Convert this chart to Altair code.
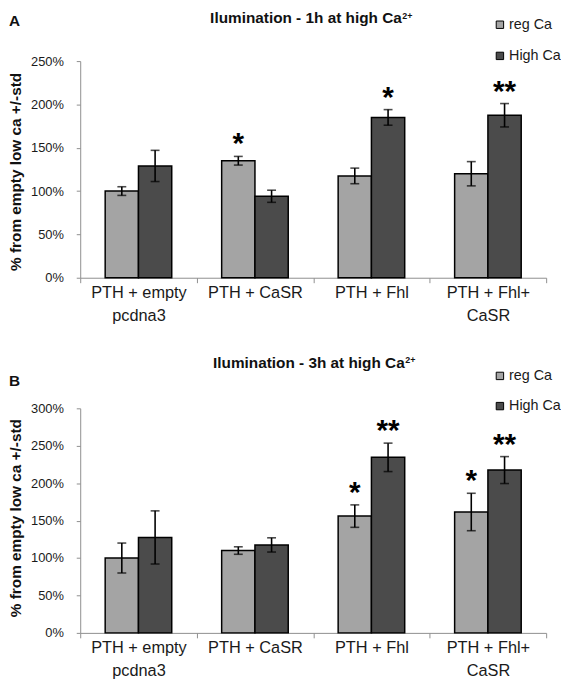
import altair as alt
import pandas as pd

# ---------------- data ----------------
categories = ["PTH + empty|pcdna3", "PTH + CaSR", "PTH + Fhl", "PTH + Fhl+|CaSR"]
series = ["reg Ca", "High Ca"]

# Panel A: 1h at high Ca2+
a_reg = [100, 135, 117.5, 120]
a_reg_err = [5, 5, 9, 14]
a_high = [129, 94, 185, 187.5]
a_high_err = [18, 7, 9, 13.5]
a_reg_star = ["", "*", "", ""]
a_high_star = ["", "", "*", "**"]

# Panel B: 3h at high Ca2+
b_reg = [100, 110, 156, 161.5]
b_reg_err = [20, 5, 15, 25]
b_high = [127.5, 117.5, 234.5, 217.5]
b_high_err = [35.5, 9.5, 19, 18]
b_reg_star = ["", "", "*", "*"]
b_high_star = ["", "", "**", "**"]

a_ticks = [0, 50, 100, 150, 200, 250]
b_ticks = [0, 50, 100, 150, 200, 250, 300]

LIGHT = "#a4a4a4"
DARK = "#4b4b4b"
AXIS_GREY = "#8f8f8f"
FONT = "Liberation Sans"


def make_df(reg, reg_err, high, high_err, reg_star, high_star):
    rows = []
    for i, c in enumerate(categories):
        rows.append(dict(cat=c, series=series[0], value=reg[i], err=reg_err[i], star=reg_star[i]))
        rows.append(dict(cat=c, series=series[1], value=high[i], err=high_err[i], star=high_star[i]))
    df = pd.DataFrame(rows)
    df["lower"] = df["value"] - df["err"]
    df["upper"] = df["value"] + df["err"]
    return df


def panel(df, letter, hours, ticks, width, height, label_pad, title_x, title_y_off,
          title_end, title_base, sup_base, letter_x, letter_y, leg_x, leg_y, leg_row):
    xaxis = alt.Axis(
        title=None, labelAngle=0, labelExpr="split(datum.label, '|')",
        labelFontSize=16.5, labelLineHeight=23, labelPadding=2,
        labelColor="#1a1a1a", labelFont=FONT,
        tickBand="extent", tickSize=5, tickColor=AXIS_GREY,
        domainColor=AXIS_GREY, domainWidth=1,
    )
    xscale = alt.Scale(paddingInner=0, paddingOuter=0)
    xoscale = alt.Scale(paddingInner=0, paddingOuter=0.75)
    yscale = alt.Scale(domain=[0, ticks[-1]], nice=False)
    yaxis = alt.Axis(
        values=ticks, tickCount=len(ticks), labelExpr="datum.value + '%'",
        labelOverlap=False,
        labelFontSize=13, labelColor="#1a1a1a", labelFont=FONT,
        labelPadding=label_pad, tickSize=4, tickColor=AXIS_GREY,
        domainColor=AXIS_GREY, grid=False,
        title="% from empty low ca +/-std", titleFontSize=15.5,
        titleFontWeight="bold", titleFont=FONT, titleColor="#111111",
        titleAngle=270, titleAlign="center", titleBaseline="middle",
        titleX=title_x, titleY=height / 2 + title_y_off,
    )

    def X():
        return alt.X("cat:N", sort=categories, scale=xscale, axis=xaxis)

    def XO():
        return alt.XOffset("series:N", sort=series, scale=xoscale)

    def Y(field):
        return alt.Y(f"{field}:Q", scale=yscale, axis=yaxis)

    base = alt.Chart(df)
    bars = base.mark_bar(stroke="black", strokeWidth=1.5).encode(
        x=X(), xOffset=XO(), y=Y("value"),
        color=alt.Color(
            "series:N", sort=series,
            scale=alt.Scale(domain=series, range=[LIGHT, DARK]),
            legend=alt.Legend(
                title=None, orient="none", legendX=leg_x, legendY=leg_y,
                symbolType="square", symbolSize=56, symbolStrokeColor="black",
                symbolStrokeWidth=1, labelFontSize=14.5, labelFont=FONT,
                labelColor="#1a1a1a", labelOffset=2, rowPadding=leg_row,
            ),
        ),
    )
    rules = base.mark_rule(color="black", strokeWidth=1.6).encode(
        x=X(), xOffset=XO(), y=Y("lower"), y2="upper:Q",
    )
    cap_lo = base.mark_tick(orient="horizontal", size=9, thickness=1.6, color="black").encode(
        x=X(), xOffset=XO(), y=Y("lower"),
    )
    cap_hi = base.mark_tick(orient="horizontal", size=9, thickness=1.6, color="black").encode(
        x=X(), xOffset=XO(), y=Y("upper"),
    )
    stars = base.transform_filter("datum.star != ''").mark_text(
        fontSize=30, fontWeight="bold", font=FONT, baseline="alphabetic",
        align="center", dy=-3, color="black",
    ).encode(
        x=X(), xOffset=XO(), y=Y("upper"), text="star:N",
    )
    title_main = alt.Chart(pd.DataFrame({"t": [f"Ilumination - {hours} at high Ca"]})).mark_text(
        fontSize=15.5, fontWeight="bold", font=FONT, align="right", baseline="alphabetic",
        color="#111111",
    ).encode(text="t:N", x=alt.value(title_end), y=alt.value(title_base))
    title_sup = alt.Chart(pd.DataFrame({"t": ["2+"]})).mark_text(
        fontSize=9, fontWeight="bold", font=FONT, align="left", baseline="alphabetic",
        color="#111111",
    ).encode(text="t:N", x=alt.value(title_end + 0.5), y=alt.value(sup_base))
    letter_mark = alt.Chart(pd.DataFrame({"t": [letter]})).mark_text(
        fontSize=15.5, fontWeight="bold", font=FONT, align="center", baseline="middle",
        color="#111111",
    ).encode(text="t:N", x=alt.value(letter_x), y=alt.value(letter_y))

    return alt.layer(bars, rules, cap_lo, cap_hi, stars, title_main, title_sup, letter_mark).properties(
        width=width, height=height
    )


df_a = make_df(a_reg, a_reg_err, a_high, a_high_err, a_reg_star, a_high_star)
df_b = make_df(b_reg, b_reg_err, b_high, b_high_err, b_reg_star, b_high_star)

panel_a = panel(df_a, "A", "1h", a_ticks, 471, 219, 13, -65, 2,
                325, -38, -43, -66.5, -40, 417, -44, 16.5)
panel_b = panel(df_b, "B", "3h", b_ticks, 471, 227, 13, -65, -3,
                328, -41, -45.5, -66.5, -27.5, 417, -40, 15.5)

chart = alt.vconcat(panel_a, panel_b, spacing=32).resolve_scale(
    x="independent", y="independent"
).resolve_legend(color="independent").properties(
    padding={"left": 0, "top": 0, "right": 0, "bottom": 0}
).configure(background="white", font=FONT).configure_view(stroke=None)

chart.save("out.html", embed_options={"renderer": "svg", "actions": False})
